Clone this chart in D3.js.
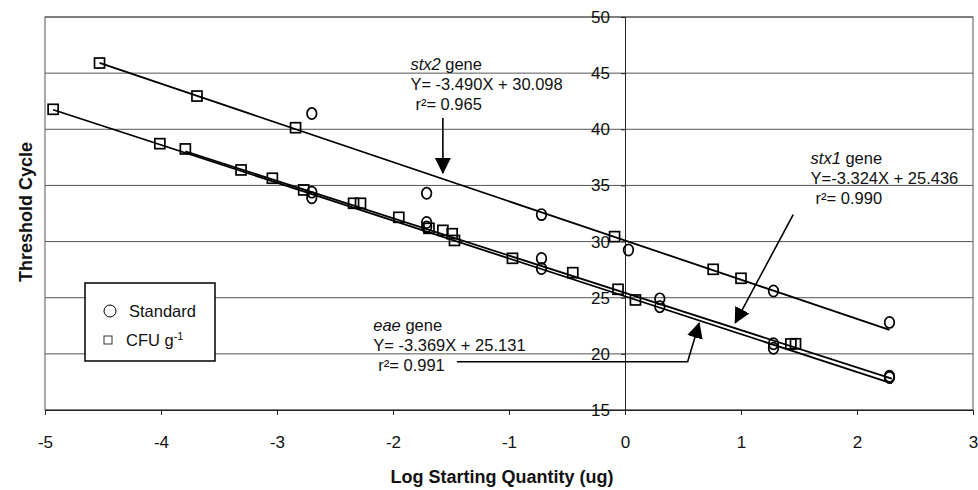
<!DOCTYPE html>
<html>
<head>
<meta charset="utf-8">
<script src="https://cdn.jsdelivr.net/npm/d3@7/dist/d3.min.js"></script>
<style>
body { margin: 0; background: #fff; }
text { font-family: "Liberation Sans", Arial, sans-serif; fill: #111; }
</style>
</head>
<body>
<div id="chart"></div>
<script>
// step 1 data

// circles (Standard)
const stdX = [-2.70, -2.70, -2.70, -1.71, -1.71, -1.71, -0.72, -0.72, -0.72, 0.03, 0.30, 0.30, 1.28, 1.28, 1.28, 2.28, 2.28, 2.28];
const stdY = [41.4, 34.4, 33.9, 34.3, 31.7, 31.3, 32.4, 28.5, 27.6, 29.25, 24.9, 24.2, 25.6, 20.9, 20.5, 22.8, 18.0, 17.9];

// squares (CFU g-1)
const cfuX = [-4.53, -3.69, -2.84, -4.93, -4.01, -3.79, -3.31, -3.04, -2.77, -2.34, -2.28, -1.95, -1.69, -1.57, -1.49, -1.47, -0.97, -0.45, -0.09, -0.06, 0.09, 0.76, 1.00, 1.43, 1.47];
const cfuY = [45.9, 42.96, 40.14, 41.78, 38.72, 38.25, 36.38, 35.64, 34.6, 33.41, 33.41, 32.16, 31.18, 31.0, 30.7, 30.1, 28.51, 27.23, 30.44, 25.75, 24.8, 27.53, 26.73, 20.88, 20.9];

// trend lines (end points on the printed fits)
const fitGene = ["stx2", "stx1", "eae"];
const fitX0 = [-4.53, -3.79, -4.93];
const fitY0 = [45.91, 38.03, 41.74];
const fitX1 = [2.28, 2.30, 2.30];
const fitY1 = [22.14, 17.79, 17.38];

// annotations
const annGene = ["stx2", "stx1", "eae"];
const annEq = ["Y= -3.490X + 30.098", "Y=-3.324X + 25.436", "Y= -3.369X + 25.131"];
const annR2 = ["0.965", "0.990", "0.991"];
const annX = [-1.85, 1.60, -2.17];
const annY = [45.3, 36.9, 22.0];

// arrows, points in data units
const arrows = [
  [[-1.57, 41.0], [-1.57, 36.1]],
  [[1.45, 32.4], [0.95, 22.75]],
  [[-1.45, 19.3], [0.54, 19.3], [0.64, 22.75]]
];

const xTicks = [-5, -4, -3, -2, -1, 0, 1, 2, 3];
const yTicks = [15, 20, 25, 30, 35, 40, 45, 50];

// step 2 dimensions
let margin = {top: 17, right: 5, bottom: 80, left: 45},
    width = 978 - margin.left - margin.right,
    height = 490 - margin.top - margin.bottom;

let svg = d3.select("#chart")
    .append("svg")
    .attr("width", 978)
    .attr("height", 490);

let g = svg.append("g")
    .attr("transform", "translate(" + margin.left + "," + margin.top + ")");

// step 3 scales
let x = d3.scaleLinear().domain([-5, 3]).range([0, width]);
let y = d3.scaleLinear().domain([15, 50]).range([height, 0]);

// arrow heads
let defs = svg.append("defs");
defs.append("marker")
    .attr("id", "head")
    .attr("markerUnits", "userSpaceOnUse")
    .attr("viewBox", "0 0 16 16")
    .attr("refX", 15)
    .attr("refY", 8)
    .attr("markerWidth", 16)
    .attr("markerHeight", 16)
    .attr("orient", "auto")
    .append("path")
    .attr("d", "M0,0 L16,8 L0,16 Z")
    .attr("fill", "#000");

// step 4 grid and frame
g.append("g")
    .selectAll("line")
    .data(yTicks)
    .join("line")
    .attr("x1", 0)
    .attr("x2", width)
    .attr("y1", d => y(d))
    .attr("y2", d => y(d))
    .attr("stroke", "#555")
    .attr("stroke-width", 1);

g.append("rect")
    .attr("width", width)
    .attr("height", height)
    .attr("fill", "none")
    .attr("stroke", "#555")
    .attr("stroke-width", 1);

// x axis at the bottom
let xAxis = g.append("g")
    .attr("transform", "translate(0," + height + ")")
    .call(d3.axisBottom(x).tickValues(xTicks).tickSize(5).tickPadding(21).tickFormat(d => String(d)));
xAxis.select(".domain").attr("stroke", "#222");
xAxis.selectAll("line").attr("stroke", "#222");
xAxis.selectAll("text")
    .style("font-size", "17px")
    .attr("fill", "#111");

// y axis crossing at x = 0
let yAxis = g.append("g")
    .attr("transform", "translate(" + x(0) + ",0)")
    .call(d3.axisLeft(y).tickValues(yTicks).tickSize(4).tickPadding(11));
yAxis.select(".domain").attr("stroke", "#222");
yAxis.selectAll("line").attr("stroke", "#222");
yAxis.selectAll("text")
    .style("font-size", "17px")
    .attr("fill", "#111");

// step 5 trend lines
g.append("g")
    .selectAll("line")
    .data(fitGene)
    .join("line")
    .attr("x1", (d, i) => x(fitX0[i]))
    .attr("y1", (d, i) => y(fitY0[i]))
    .attr("x2", (d, i) => x(fitX1[i]))
    .attr("y2", (d, i) => y(fitY1[i]))
    .attr("stroke", "#000")
    .attr("stroke-width", 1.8);

// step 6 markers
g.append("g")
    .selectAll("rect")
    .data(cfuX)
    .join("rect")
    .attr("x", (d, i) => x(d) - 5)
    .attr("y", (d, i) => y(cfuY[i]) - 5)
    .attr("width", 10)
    .attr("height", 10)
    .attr("fill", "none")
    .attr("stroke", "#000")
    .attr("stroke-width", 1.7);

g.append("g")
    .selectAll("ellipse")
    .data(stdX)
    .join("ellipse")
    .attr("cx", d => x(d))
    .attr("cy", (d, i) => y(stdY[i]))
    .attr("rx", 4.8)
    .attr("ry", 5.6)
    .attr("fill", "none")
    .attr("stroke", "#000")
    .attr("stroke-width", 1.7);

// step 7 annotations
let ann = g.append("g")
    .selectAll("text")
    .data(annGene)
    .join("text")
    .attr("x", (d, i) => x(annX[i]))
    .attr("y", (d, i) => y(annY[i]))
    .style("font-size", "16.5px");

ann.append("tspan").style("font-style", "italic").text(d => d);
ann.append("tspan").text(" gene");
ann.append("tspan")
    .attr("x", (d, i) => x(annX[i]))
    .attr("dy", 20)
    .text((d, i) => annEq[i]);
ann.append("tspan")
    .attr("x", (d, i) => x(annX[i]) + 5)
    .attr("dy", 20)
    .text((d, i) => "r\u00b2= " + annR2[i]);

let line = d3.line().x(d => x(d[0])).y(d => y(d[1]));
g.append("g")
    .selectAll("path")
    .data(arrows)
    .join("path")
    .attr("d", line)
    .attr("fill", "none")
    .attr("stroke", "#000")
    .attr("stroke-width", 1.6)
    .attr("marker-end", "url(#head)");

// step 8 legend
let legend = g.append("g")
    .attr("transform", "translate(40,266)");

legend.append("rect")
    .attr("width", 130)
    .attr("height", 78)
    .attr("fill", "#fff")
    .attr("stroke", "#000")
    .attr("stroke-width", 1.5);

legend.append("circle")
    .attr("cx", 25)
    .attr("cy", 28)
    .attr("r", 6)
    .attr("fill", "none")
    .attr("stroke", "#000")
    .attr("stroke-width", 1);

legend.append("text")
    .attr("x", 44)
    .attr("y", 34)
    .style("font-size", "16.5px")
    .text("Standard");

legend.append("rect")
    .attr("x", 19)
    .attr("y", 53)
    .attr("width", 8)
    .attr("height", 8)
    .attr("fill", "none")
    .attr("stroke", "#333")
    .attr("stroke-width", 1);

let cfu = legend.append("text")
    .attr("x", 41)
    .attr("y", 63)
    .style("font-size", "16.5px");
cfu.append("tspan").text("CFU g");
cfu.append("tspan")
    .attr("dy", -6)
    .style("font-size", "11px")
    .text("-1");

// step 9 axis titles
svg.append("text")
    .attr("x", margin.left + x(-1.06))
    .attr("y", 483)
    .attr("text-anchor", "middle")
    .style("font-size", "18px")
    .style("font-weight", "bold")
    .text("Log Starting Quantity (ug)");

svg.append("text")
    .attr("transform", "translate(32,212) rotate(-90)")
    .attr("text-anchor", "middle")
    .style("font-size", "18px")
    .style("font-weight", "bold")
    .text("Threshold Cycle");
</script>
</body>
</html>
